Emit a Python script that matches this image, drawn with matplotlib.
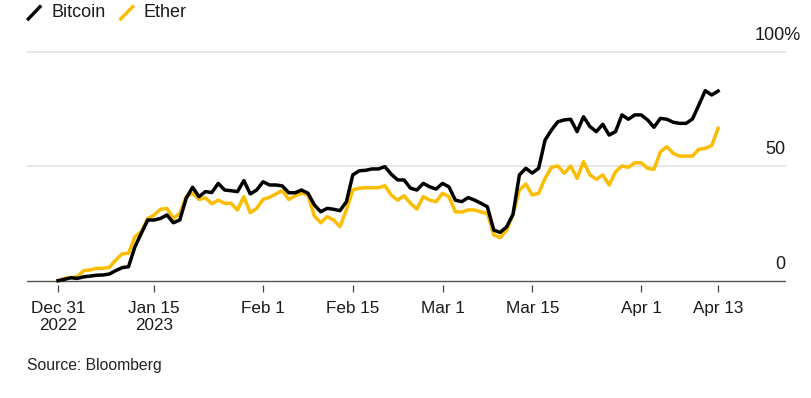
import numpy as np
import pandas as pd
import matplotlib
matplotlib.use("Agg")
import matplotlib.pyplot as plt
from matplotlib.lines import Line2D

plt.rcParams['font.family'] = ['Liberation Sans', 'DejaVu Sans']

# Data: cumulative % gain since Dec 31 2022, daily
start = pd.Timestamp('2022-12-31')
bitcoin = [0, 0.6, 1.3, 1.0, 1.7, 2.0, 2.4, 2.5, 2.9, 4.4,
           5.7, 6.1, 14.8, 20.7, 26.5, 26.5, 27.2, 28.7, 25.3, 26.5,
           36.0, 40.8, 36.7, 38.9, 38.5, 42.5, 39.6, 39.3, 38.9, 43.7,
           37.9, 39.6, 43.2, 41.8, 41.8, 41.4, 38.4, 38.4, 39.6, 38.2,
           33.1, 30.1, 31.6, 31.2, 30.6, 34.5, 46.2, 48.0, 48.2, 48.8,
           48.8, 49.8, 46.5, 44.0, 44.0, 40.4, 39.6, 42.5, 41.0, 40.0,
           42.5, 41.0, 35.2, 34.5, 36.3, 35.2, 33.8, 32.3, 22.1, 21.1,
           23.5, 29.0, 46.2, 49.1, 47.0, 49.1, 61.4, 65.8, 69.4, 70.2,
           70.5, 65.1, 71.6, 67.3, 65.1, 68.3, 63.6, 65.1, 72.4, 70.5,
           72.4, 72.4, 70.2, 67.0, 70.9, 70.5, 69.2, 68.7, 68.7, 70.6,
           76.7, 83.0, 81.1, 82.8]
ether = [0, 1.0, 1.4, 1.7, 4.4, 4.7, 5.4, 5.4, 5.8, 9.0,
         11.7, 12.0, 19.2, 21.4, 27.2, 28.7, 31.2, 31.6, 27.2, 29.4,
         36.7, 38.2, 35.5, 36.2, 33.6, 35.2, 33.8, 33.8, 30.9, 36.7,
         29.7, 31.6, 35.5, 36.4, 37.9, 39.3, 35.5, 37.0, 38.2, 37.4,
         28.3, 25.3, 28.0, 26.5, 23.6, 30.9, 39.6, 40.4, 40.6, 40.6,
         40.6, 41.5, 37.4, 35.2, 37.1, 33.8, 31.3, 36.7, 35.2, 34.5,
         38.2, 36.7, 30.1, 30.0, 30.9, 30.9, 30.0, 29.4, 20.0, 18.8,
         22.0, 29.0, 39.6, 42.2, 37.4, 38.2, 44.7, 49.5, 50.1, 46.9,
         50.1, 44.7, 52.0, 46.2, 44.3, 46.2, 41.8, 47.6, 50.1, 49.5,
         51.5, 51.5, 49.1, 48.6, 56.3, 58.5, 55.6, 54.4, 54.4, 54.4,
         57.4, 57.8, 59.0, 66.5]
dates = pd.date_range(start, periods=len(bitcoin), freq='D')

tick_dates = pd.to_datetime(['2022-12-31', '2023-01-15', '2023-02-01', '2023-02-15',
                             '2023-03-01', '2023-03-15', '2023-04-01', '2023-04-13'])
tick_labels = ['Dec 31\n2022', 'Jan 15\n2023', 'Feb 1', 'Feb 15',
               'Mar 1', 'Mar 15', 'Apr 1', 'Apr 13']
y_levels = [0, 50, 100]
y_labels = ['0', '50', '100%']

W, H = 811, 398
BLACK = '#000000'
YELLOW = '#fbbd00'
TEXT = '#1a1a1a'

fig = plt.figure(figsize=(W / 100, H / 100), dpi=100)
ax = fig.add_axes([27 / W, 1 - 285.3 / H, 759 / W, 238.2 / H])

ax.plot(dates, ether, color=YELLOW, lw=2.5, solid_joinstyle='round', zorder=3)
ax.plot(dates, bitcoin, color=BLACK, lw=2.5, solid_joinstyle='round', zorder=4)

for lv in y_levels[1:]:
    ax.axhline(lv, color='#e2e2e2', lw=1.2, zorder=1)
ax.axhline(0, color='#555555', lw=1.0, zorder=2)

ax.set_ylim(-2, 102)
ax.set_xlim(start - pd.Timedelta(days=4.84), start + pd.Timedelta(days=113.6))

for s in ax.spines.values():
    s.set_visible(False)
ax.set_yticks([])
ax.set_xticks(tick_dates)
ax.set_xticklabels(tick_labels, fontsize=12.3, color=TEXT)
ax.tick_params(axis='x', length=5, width=0.9, color='#444444', pad=6)

# y labels sit above their gridlines, right side
for lv, lab in zip(y_levels, y_labels):
    xr = 1.0198 if lab.endswith('%') else 0.9987
    ax.text(xr, lv + 7.1, lab, transform=ax.get_yaxis_transform(),
            ha='right', va='center', fontsize=13, color=TEXT)

# legend
def px(x, y):
    return x / W, 1 - y / H

for (x0, y0, x1, y1), c in [((28.3, 19, 40, 6.7), BLACK), ((120.7, 19, 132.7, 6.7), YELLOW)]:
    a, b = px(x0, y0)
    c1, d = px(x1, y1)
    fig.add_artist(Line2D([a, c1], [b, d], color=c, lw=2.4, transform=fig.transFigure))
fig.text(*px(51.7, 12.7), 'Bitcoin', ha='left', va='center', fontsize=13, color=TEXT)
fig.text(*px(143.3, 12.7), 'Ether', ha='left', va='center', fontsize=13, color=TEXT)

fig.text(*px(27, 365.7), 'Source: Bloomberg', ha='left', va='center', fontsize=11.3, color='#222222')

fig.savefig('out.png', dpi=100)
